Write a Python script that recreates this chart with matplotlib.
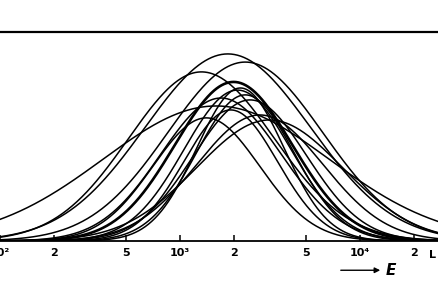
import numpy as np
import matplotlib.pyplot as plt

# peak energy, relative peak height, width (decades) for each curve
peak_E = [1841, 2302, 1315, 1983, 1585, 2084, 2302, 1687, 2449, 1910, 2774, 1399, 2163, 3141]
peak_h = [0.895, 0.856, 0.809, 0.761, 0.646, 0.722, 0.699, 0.684, 0.675, 0.627, 0.603, 0.589, 0.732, 0.579]
width_dec = [0.46, 0.43, 0.405, 0.325, 0.627, 0.297, 0.27, 0.335, 0.313, 0.26, 0.351, 0.297, 0.243, 0.405]
thick = [False, False, False, True, False, False, False, False, False, False, False, False, False, False]

tick_pos = [100, 200, 500, 1000, 2000, 5000, 10000, 20000]
tick_lab = ["10²", "2", "5", "10³", "2", "5", "10⁴", "2"]

fig = plt.figure(figsize=(4.38, 2.92), dpi=100)
ax = fig.add_axes([0, 0.1747, 1, 0.7158])

E = np.logspace(1.9, 4.6, 600)
for Ec, h, w, t in zip(peak_E, peak_h, width_dec, thick):
    y = h * np.exp(-np.log10(E / Ec) ** 2 / (2 * w ** 2))
    ax.plot(E, y, color="black", lw=1.9 if t else 1.1, solid_capstyle="round")

ax.set_xscale("log")
ax.set_xlim(10 ** 2.0649, 10 ** 4.4324)
ax.set_ylim(0, 1)
ax.set_yticks([])
ax.set_xticks(tick_pos)
ax.set_xticklabels(tick_lab, fontsize=8, fontweight="bold")
ax.xaxis.set_minor_locator(plt.NullLocator())
ax.tick_params(axis="x", direction="in", length=4, width=1.1, pad=5)
ax.spines["left"].set_visible(False)
ax.spines["right"].set_visible(False)
ax.spines["top"].set_linewidth(1.6)
ax.spines["bottom"].set_linewidth(1.3)

# arrow with E below the axis
ax.annotate("", xy=(383 / 438, -0.14), xytext=(338 / 438, -0.14),
            xycoords="axes fraction",
            arrowprops=dict(arrowstyle="-|>", color="black", lw=1.0, mutation_scale=8))
ax.text(386 / 438, -0.14, "E", transform=ax.transAxes, fontsize=11,
        fontstyle="italic", fontweight="bold", va="center", ha="left")
ax.text(432 / 438, -0.065, "L", transform=ax.transAxes, fontsize=8,
        fontweight="bold", va="center", ha="center")

fig.savefig("out.png", dpi=100)
